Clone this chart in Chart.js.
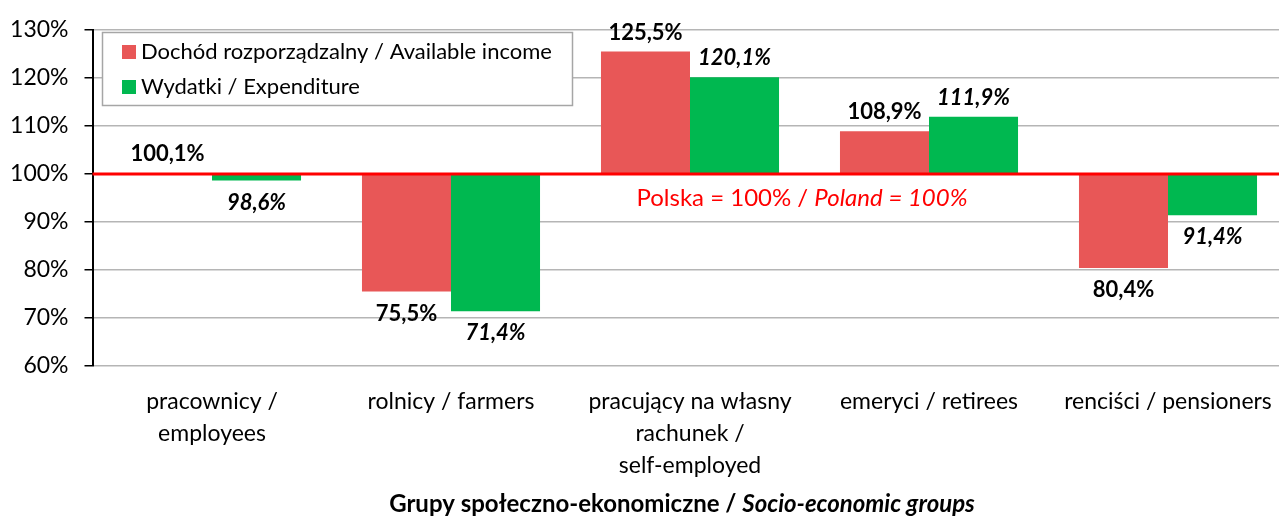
<!DOCTYPE html>
<html>
<head>
<meta charset="utf-8">
<script src="https://cdn.jsdelivr.net/npm/chart.js@4/dist/chart.umd.min.js"></script>
<style>
html,body{margin:0;padding:0;background:#fff;overflow:hidden;}
#wrap{position:relative;width:1290px;height:518px;}
</style>
</head>
<body>
<div id="wrap"><canvas id="c" width="1290" height="518"></canvas></div>
<script>
const categories = [
  ["pracownicy /", "employees"],
  ["rolnicy / farmers"],
  ["pracujący na własny", "rachunek /", "self-employed"],
  ["emeryci / retirees"],
  ["renciści / pensioners"]
];
const seriesNames = ["Dochód rozporządzalny / Available income", "Wydatki / Expenditure"];
const incomeValues = [100.1, 75.5, 125.5, 108.9, 80.4];
const expenditureValues = [98.6, 71.4, 120.1, 111.9, 91.4];
const baseline = 100;
const yMin = 60, yMax = 130, yStep = 10;
const baselineLabelA = "Polska = 100% / ";
const baselineLabelB = "Poland = 100%";
const axisTitleA = "Grupy społeczno-ekonomiczne / ";
const axisTitleB = "Socio-economic groups";

const RED = '#E85757';
const GREEN = '#00B850';
const FONT = 'Lato, "Open Sans", sans-serif';

function fmt(v){ return v.toFixed(1).replace('.', ',') + '%'; }

const overlay = {
  id: 'overlay',
  afterDatasetsDraw(chart) {
    const ctx = chart.ctx;
    const ya = chart.scales.y;
    const ca = chart.chartArea;
    const yb = ya.getPixelForValue(baseline);
    ctx.save();
    // baseline red line
    ctx.strokeStyle = '#FF0000';
    ctx.lineWidth = 3;
    ctx.beginPath();
    ctx.moveTo(ca.left, yb);
    ctx.lineTo(ca.right, yb);
    ctx.stroke();
    // data labels
    const vals = [incomeValues, expenditureValues];
    ctx.fillStyle = '#000';
    ctx.textAlign = 'center';
    ctx.textBaseline = 'middle';
    vals.forEach((arr, di) => {
      const meta = chart.getDatasetMeta(di);
      ctx.font = (di === 1 ? 'italic ' : '') + 'bold 22px ' + FONT;
      arr.forEach((v, i) => {
        const bar = meta.data[i];
        const yv = ya.getPixelForValue(v);
        const y = v >= baseline ? yv - 19 : yv + 22;
        ctx.fillText(fmt(v), bar.x, y);
      });
    });
    // baseline annotation text
    ctx.fillStyle = '#FF0000';
    ctx.textAlign = 'left';
    ctx.font = '24px ' + FONT;
    const wA = ctx.measureText(baselineLabelA).width;
    ctx.font = 'italic 24px ' + FONT;
    const wB = ctx.measureText(baselineLabelB).width;
    const cx = 802, ty = 198;
    let x0 = cx - (wA + wB) / 2;
    ctx.font = '24px ' + FONT;
    ctx.fillText(baselineLabelA, x0, ty);
    ctx.font = 'italic 24px ' + FONT;
    ctx.fillText(baselineLabelB, x0 + wA, ty);
    // x axis title
    ctx.fillStyle = '#000';
    ctx.font = 'bold 24px ' + FONT;
    const tA = ctx.measureText(axisTitleA).width;
    ctx.font = 'italic bold 24px ' + FONT;
    const tB = ctx.measureText(axisTitleB).width;
    let tx = 682 - (tA + tB) / 2;
    ctx.font = 'bold 24px ' + FONT;
    ctx.fillText(axisTitleA, tx, 504);
    ctx.font = 'italic bold 24px ' + FONT;
    ctx.fillText(axisTitleB, tx + tA, 504);
    // legend
    ctx.fillStyle = '#fff';
    ctx.fillRect(102, 32, 471, 74);
    ctx.strokeStyle = '#A6A6A6';
    ctx.lineWidth = 1.5;
    ctx.strokeRect(102.5, 32.5, 470, 73);
    const colors = [RED, GREEN];
    const ly = [52, 87];
    ctx.font = '22px ' + FONT;
    seriesNames.forEach((n, i) => {
      ctx.fillStyle = colors[i];
      ctx.fillRect(122, ly[i] - 7, 14, 14);
      ctx.fillStyle = '#000';
      ctx.fillText(n, 141, ly[i]);
    });
    ctx.restore();
  }
};

new Chart(document.getElementById('c'), {
  type: 'bar',
  data: {
    labels: categories,
    datasets: [
      { label: seriesNames[0], data: incomeValues.map(v => [baseline, v]), backgroundColor: RED, borderSkipped: false },
      { label: seriesNames[1], data: expenditureValues.map(v => [baseline, v]), backgroundColor: GREEN, borderSkipped: false }
    ]
  },
  options: {
    responsive: false,
    animation: false,
    events: [],
    layout: { padding: { top: 16, right: 2.5, left: 0, bottom: 0 } },
    datasets: { bar: { categoryPercentage: 0.745, barPercentage: 1 } },
    plugins: { legend: { display: false }, tooltip: { enabled: false }, title: { display: false } },
    scales: {
      x: {
        grid: { display: false },
        border: { display: false },
        ticks: { color: '#000', font: { family: FONT, size: 23, lineHeight: 1.39 }, padding: 12, maxRotation: 0, autoSkip: false },
        afterFit(s) { s.height = 152; }
      },
      y: {
        min: yMin, max: yMax,
        ticks: { stepSize: yStep, color: '#000', font: { family: FONT, size: 23 }, padding: 16, callback: v => v + '%' },
        grid: { color: '#B5B5B5', lineWidth: 1.5, tickColor: '#000', tickLength: 8, drawTicks: true },
        border: { color: '#000', width: 2 },
        afterFit(s) { s.width = 92.5; }
      }
    }
  },
  plugins: [overlay]
});
</script>
</body>
</html>
